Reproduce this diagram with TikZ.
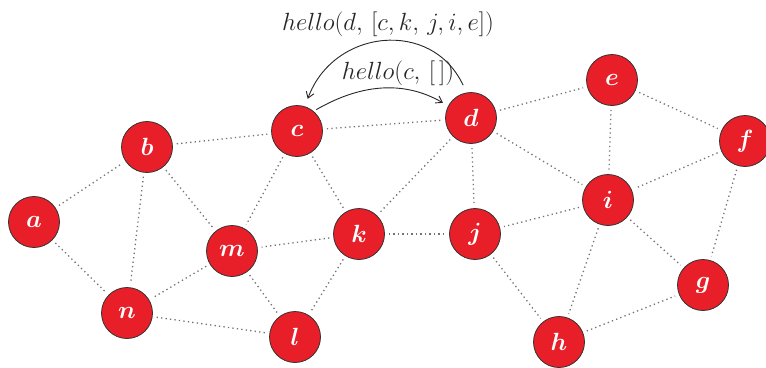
\documentclass[tikz,border=0pt]{standalone}
\usetikzlibrary{arrows.meta}
\definecolor{nodered}{RGB}{232,30,40}
\begin{document}
\begin{tikzpicture}[x=1pt,y=-1pt,
  vtx/.style={circle,fill=nodered,draw=black!80,line width=0.8pt,minimum size=51pt,inner sep=0pt,
    text=white,font=\fontsize{27}{30}\selectfont\boldmath},
  link/.style={draw=black!55,line width=1.3pt,dash pattern=on 1.3pt off 3.2pt,shorten <=4pt,shorten >=4pt},
  msg/.style={draw=black!85,line width=0.9pt,-{Straight Barb[length=6pt,width=8pt]}},
  lbl/.style={font=\fontsize{25}{28}\selectfont,text=black!85}]
\useasboundingbox (0,0) rectangle (766,367);
\node[vtx] (a) at (34,222) {$a$};
\node[vtx] (b) at (147,147) {$b$};
\node[vtx] (c) at (297,131) {$c$};
\node[vtx] (d) at (471,118) {$d$};
\node[vtx] (e) at (612,80) {$e$};
\node[vtx] (f) at (745,141) {$f$};
\node[vtx] (i) at (608,200) {$i$};
\node[vtx] (g) at (703,285) {$g$};
\node[vtx] (h) at (559,342) {$h$};
\node[vtx] (j) at (475,234) {$j$};
\node[vtx] (k) at (359,234) {$k$};
\node[vtx] (m) at (232,251) {$m$};
\node[vtx] (n) at (127,313) {$n$};
\node[vtx] (l) at (295,337) {$l$};
\foreach \u/\v in {a/b,a/n,b/c,b/n,b/m,c/d,c/m,c/k,d/e,d/k,d/j,d/i,e/i,e/f,f/i,f/g,i/j,i/h,i/g,j/h,h/g,k/j,k/m,k/l,m/n,m/l,n/l}
  \draw[link] (\u) -- (\v);
\draw[msg,shorten <=3pt,shorten >=6pt] (c.50) to[out=30,in=150] (d.152);
\draw[msg,shorten <=8pt,shorten >=8pt] (d.100) to[out=115,in=70,looseness=1.3] (c.72);
\node[lbl] (m1) at (398,73) {$hello(c,\,[\,])$};
\node[lbl] (m2) at (388,24) {$hello(d,\,[c,k,\,j,i,e])$};
\end{tikzpicture}
\end{document}
